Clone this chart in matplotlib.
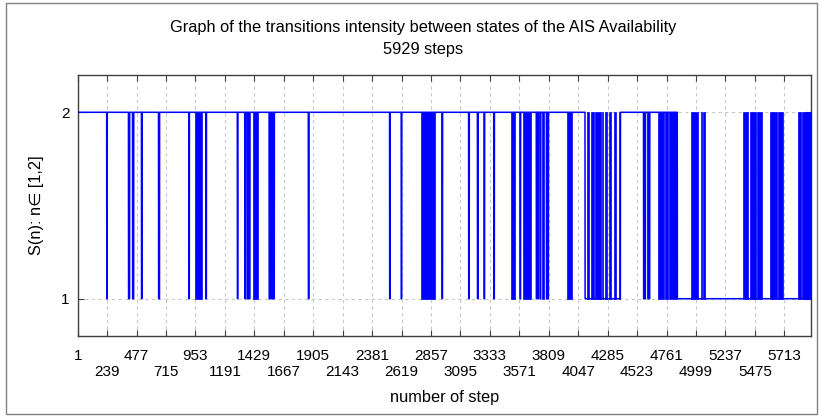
import matplotlib
matplotlib.use("Agg")
import matplotlib.pyplot as plt
from matplotlib.patches import Rectangle
from matplotlib.ticker import FixedLocator, FixedFormatter
import numpy as np

plt.rcParams['font.family'] = ['Liberation Sans', 'DejaVu Sans']

# liczba kroków
n_steps = 5929

# przedziały (krok_od, krok_do), w których S(n) = 1
low_runs = [
    (236, 239), (412, 420), (445, 453), (517, 520), (655, 662), (900, 903),
    (1038, 1041), (1292, 1295), (1352, 1359), (1374, 1378), (1385, 1393),
    (1549, 1554), (1558, 1563), (1574, 1579), (1585, 1590), (1866, 1870),
    (2523, 2526), (2617, 2620), (2947, 2950), (3162, 3166), (3233, 3237),
    (3287, 3290), (3365, 3369), (3578, 3581), (3709, 3712), (3722, 3725),
    (3740, 3744), (3791, 3795), (3801, 3806),
    (4103, 4388),
    (4576, 4580), (4586, 4590), (4612, 4616), (4621, 4625),
    (4849, 5929),
]

# przedziały z bardzo częstymi przejściami 1 <-> 2
bursts = [
    (952, 1006), (1422, 1457), (2775, 2888), (3505, 3537), (3599, 3662),
    (3756, 3770), (3958, 4001),
    (4120, 4134), (4147, 4174), (4179, 4228), (4242, 4250), (4261, 4277),
    (4296, 4309), (4334, 4355), (4375, 4388),
    (4693, 4742), (4748, 4775), (4782, 4849),
    (4956, 5013), (5042, 5052), (5060, 5071),
    (5383, 5421), (5436, 5486), (5494, 5536), (5599, 5653), (5661, 5699),
    (5825, 5852), (5857, 5929),
]

tick_row1 = [1, 477, 953, 1429, 1905, 2381, 2857, 3333, 3809, 4285, 4761, 5237, 5713]
tick_row2 = [239, 715, 1191, 1667, 2143, 2619, 3095, 3571, 4047, 4523, 4999, 5475]

steps = np.arange(1, n_steps + 1)
state = np.full(n_steps, 2.0)
for a, b in low_runs:
    state[a - 1:b] = 1.0

fig = plt.figure(figsize=(8.19, 4.16), dpi=100)
ax = fig.add_axes([0.0949, 0.1923, 0.8953, 0.6274])

blue = '#0000ff'
ax.plot(steps, state, color=blue, linewidth=1.1, zorder=3)
for a, b in bursts:
    ax.fill_between([a, b], 1, 2, color=blue, linewidth=0.5, edgecolor=blue, zorder=3)

ax.set_xlim(1, n_steps)
ax.set_ylim(0.8, 2.2)

ax.xaxis.set_major_locator(FixedLocator(tick_row1))
ax.xaxis.set_major_formatter(FixedFormatter([str(t) for t in tick_row1]))
ax.xaxis.set_minor_locator(FixedLocator(tick_row2))
ax.xaxis.set_minor_formatter(FixedFormatter([str(t) for t in tick_row2]))
ax.set_yticks([1, 2])

ax.tick_params(axis='both', which='both', direction='in', length=4, width=0.8,
               color='#404040', labelsize=11, top=True, right=True)
ax.tick_params(axis='x', which='major', pad=9)
ax.tick_params(axis='x', which='minor', pad=21)
ax.tick_params(axis='y', pad=6)

ax.grid(True, which='both', color='#c8c8c8', linestyle=(0, (3, 3)), linewidth=0.8, zorder=0)
for s in ax.spines.values():
    s.set_color('#404040')
    s.set_linewidth(1.0)

ax.set_xlabel('number of step', fontsize=11.8)
ax.xaxis.set_label_coords(0.5, -0.205)
ax.set_ylabel('S(n): n\u2208 [1,2]', fontsize=11.8)
ax.yaxis.set_label_coords(-0.046, 0.5)

fig.text(0.5165, 0.935, 'Graph of the transitions intensity between states of the AIS Availability',
         ha='center', va='center', fontsize=11.8)
fig.text(0.5165, 0.88, '5929 steps', ha='center', va='center', fontsize=11.8)

# ramka wokół wykresu
fig.patches.append(Rectangle((0.0073, 0.0048), 0.990, 0.988, transform=fig.transFigure,
                             fill=False, edgecolor='#808080', linewidth=1.0))

fig.savefig('out.png', dpi=100)
